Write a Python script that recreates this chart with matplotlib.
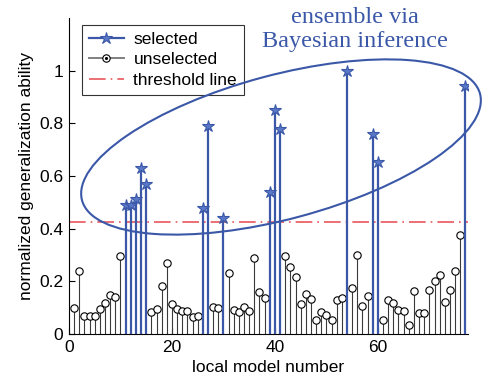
import numpy as np
import matplotlib
matplotlib.use('Agg')
import matplotlib.pyplot as plt
from matplotlib.lines import Line2D
from matplotlib.patches import Ellipse
from matplotlib.legend_handler import HandlerLine2D

plt.rcParams['font.family'] = ['Liberation Sans', 'DejaVu Sans']

# data
sel_idx = [11, 12, 13, 14, 15, 26, 27, 30, 39, 40, 41, 54, 59, 60, 77]
sel_val = [0.49, 0.488, 0.512, 0.63, 0.569, 0.478, 0.788, 0.44, 0.539,
           0.852, 0.778, 1.0, 0.76, 0.654, 0.943]

unsel_idx = [1, 2, 3, 4, 5, 6, 7, 8, 9, 10,
             16, 17, 18, 19, 20, 21, 22, 23, 24, 25,
             28, 29, 31, 32, 33, 34, 35, 36, 37, 38,
             42, 43, 44, 45, 46, 47, 48, 49, 50, 51, 52, 53,
             55, 56, 57, 58,
             61, 62, 63, 64, 65, 66, 67, 68, 69, 70, 71, 72, 73, 74, 75, 76]
unsel_val = [0.10, 0.24, 0.068, 0.068, 0.067, 0.096, 0.117, 0.148, 0.142, 0.297,
             0.082, 0.094, 0.183, 0.271, 0.114, 0.094, 0.089, 0.089, 0.066, 0.068,
             0.104, 0.098, 0.233, 0.091, 0.085, 0.101, 0.089, 0.288, 0.161, 0.136,
             0.297, 0.256, 0.218, 0.114, 0.151, 0.132, 0.053, 0.085, 0.072, 0.053, 0.129, 0.136,
             0.174, 0.299, 0.106, 0.143,
             0.053, 0.129, 0.119, 0.091, 0.089, 0.034, 0.165, 0.079, 0.079, 0.167,
             0.203, 0.224, 0.123, 0.167, 0.241, 0.376]

threshold = 0.425
x_ticks = [0, 20, 40, 60]
y_ticks = [0, 0.2, 0.4, 0.6, 0.8, 1]

blue = '#3b58a8'
red = '#e8585e'
thr_style = (0, (10, 3, 1, 3))


class EndMarker(HandlerLine2D):
    # marker sits at the right end of the legend line, like matlab
    def get_xdata(self, legend, xdescent, ydescent, width, height, fontsize):
        xd = np.array([-xdescent, -xdescent + width])
        return xd, np.array([-xdescent + width])


fig = plt.figure(figsize=(4.88, 3.80), dpi=100)
ax = fig.add_axes([0.1414, 0.121, 0.8176, 0.832])

# unselected models
m, s, b = ax.stem(unsel_idx, unsel_val, linefmt='k-', markerfmt='o', basefmt=' ')
plt.setp(s, linewidth=0.8, color='#3a3a3a')
plt.setp(m, markersize=5.3, markerfacecolor='white', markeredgecolor='k',
         markeredgewidth=0.8, zorder=3)

# threshold
ax.axhline(threshold, color=red, lw=1.2, linestyle=thr_style, zorder=2)

# selected models
m2, s2, b2 = ax.stem(sel_idx, sel_val, linefmt='-', markerfmt='*', basefmt=' ')
plt.setp(s2, linewidth=1.6, color=blue, zorder=4)
plt.setp(m2, markersize=9, markerfacecolor='#5a78c8', markeredgecolor=blue,
         markeredgewidth=0.8, zorder=5)

ax.set_xlim(0, 77.5)
ax.set_ylim(0, 1.2)
ax.set_xticks(x_ticks)
ax.set_yticks(y_ticks)
ax.set_yticklabels(['0', '0.2', '0.4', '0.6', '0.8', '1'])
ax.tick_params(direction='in', length=4, width=0.8, labelsize=12.5, pad=4)
for side in ['top', 'right']:
    ax.spines[side].set_visible(False)
for side in ['left', 'bottom']:
    ax.spines[side].set_linewidth(0.8)
ax.set_xlabel('local model number', fontsize=12.5, labelpad=4)
ax.set_ylabel('normalized generalization ability', fontsize=12.5, labelpad=4)

# legend with matlab-like handles
h_sel = Line2D([], [], color=blue, lw=1.6, marker='*', ms=9,
               mfc='#5a78c8', mec=blue, mew=0.8)
h_uns = Line2D([], [], color='#808080', lw=1.4, marker='o', ms=5.3,
               mfc='white', mec='k', mew=0.8)
h_dot = Line2D([], [], ls='none', marker='.', ms=2.5, color='k')
h_thr = Line2D([], [], color=red, lw=1.2, linestyle=thr_style)
leg = ax.legend([h_sel, (h_uns, h_dot), h_thr],
                ['selected', 'unselected', 'threshold line'],
                handler_map={h_sel: EndMarker(), h_uns: EndMarker(), h_dot: EndMarker()},
                loc='upper left', bbox_to_anchor=(0.033, 0.978), borderaxespad=0,
                fontsize=12.5, handlelength=2.0, handletextpad=0.55,
                labelspacing=0.3, borderpad=0.4, frameon=True, fancybox=False)
leg.get_frame().set_edgecolor('k')
leg.get_frame().set_linewidth(0.8)

# ellipse around the selected ones + annotation
fig.add_artist(Ellipse((2.81, 2.33), 4.12, 1.44, angle=15,
                       transform=fig.dpi_scale_trans, fill=False,
                       edgecolor=blue, linewidth=1.5, clip_on=False))
fig.text(0.727, 0.922, 'ensemble via\nBayesian inference', ha='center', va='center',
         fontsize=17.5, color=blue, family=['Liberation Serif', 'DejaVu Serif'],
         linespacing=1.15)

fig.savefig('out.png', dpi=100)
